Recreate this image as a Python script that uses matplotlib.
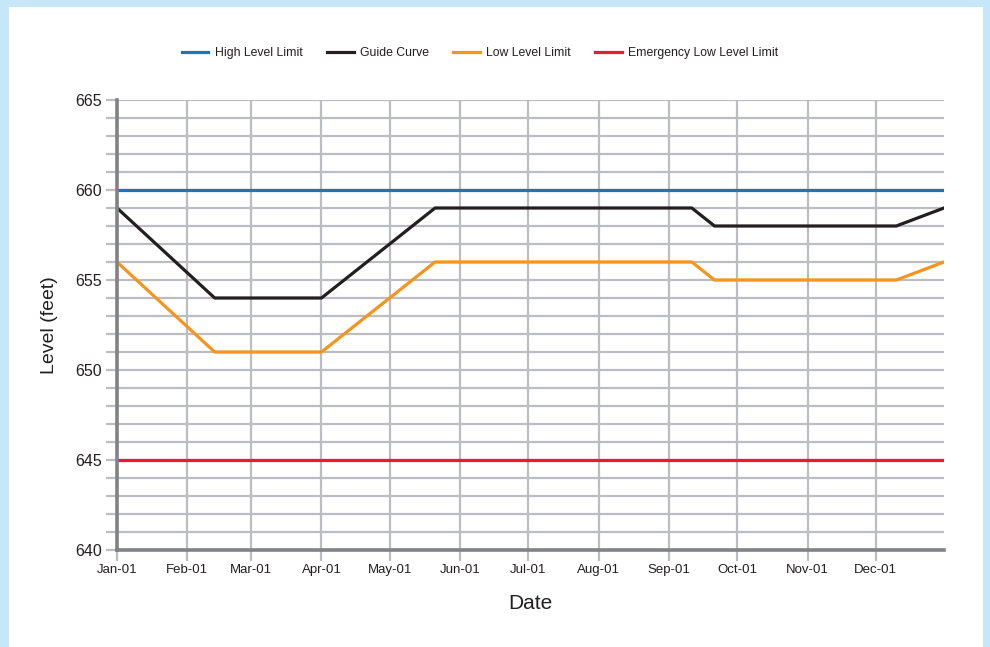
import datetime as dt
import matplotlib
matplotlib.use('Agg')
import matplotlib.pyplot as plt
import matplotlib.dates as mdates
from matplotlib.ticker import MultipleLocator

plt.rcParams['font.family'] = ['Liberation Sans Narrow', 'Liberation Sans', 'DejaVu Sans']

# breakpoints (year 2001)
guide_dates = ['2001-01-01', '2001-02-13', '2001-04-01', '2001-05-21',
               '2001-09-11', '2001-09-21', '2001-12-10', '2001-12-31']
guide_vals = [659, 654, 654, 659, 659, 658, 658, 659]
low_vals = [656, 651, 651, 656, 656, 655, 655, 656]
limit_dates = ['2001-01-01', '2001-12-31']
high_vals = [660, 660]
emerg_vals = [645, 645]
month_ticks = ['2001-%02d-01' % m for m in range(1, 13)]

def to_dt(lst):
    return [dt.datetime.strptime(s, '%Y-%m-%d') for s in lst]

grid_c = '#bcbdc1'
spine_c = '#808285'

fig = plt.figure(figsize=(9.9, 6.47), dpi=100)
fig.patch.set_facecolor('#c6e7f8')
# white panel behind everything
bg = fig.add_axes([9/990, 0, (983-9)/990, 1-7/647], zorder=-10)
bg.set_facecolor('white')
bg.set_xticks([])
bg.set_yticks([])
for s in bg.spines.values():
    s.set_visible(False)

ax = fig.add_axes([117/990, 1-550/647, (944-117)/990, (550-100)/647])
ax.set_facecolor('none')

lw = 2.3
ax.plot(to_dt(limit_dates), high_vals, color='#1b75bb', lw=lw, label='High Level Limit', zorder=3)
ax.plot(to_dt(guide_dates), guide_vals, color='#231f20', lw=lw, label='Guide Curve', zorder=3)
ax.plot(to_dt(guide_dates), low_vals, color='#f7941d', lw=lw, label='Low Level Limit', zorder=3)
ax.plot(to_dt(limit_dates), emerg_vals, color='#ed1c24', lw=lw, label='Emergency Low Level Limit', zorder=3)

ax.set_xlim(dt.datetime(2001, 1, 1), dt.datetime(2001, 12, 31))
ax.set_ylim(640, 665)
ax.yaxis.set_major_locator(MultipleLocator(5))
ax.yaxis.set_minor_locator(MultipleLocator(1))
ax.set_xticks(to_dt(month_ticks))
ax.xaxis.set_major_formatter(mdates.DateFormatter('%b-%y'))

ax.grid(True, which='both', axis='y', color=grid_c, lw=1.6, zorder=1)
ax.grid(True, which='major', axis='x', color=grid_c, lw=1.6, zorder=1)
ax.tick_params(axis='both', which='both', direction='out', length=8, width=1.6,
               color=grid_c, labelcolor='#231f20', pad=2)
ax.tick_params(axis='x', labelsize=9.5)
ax.tick_params(axis='y', labelsize=11.5, pad=3)

for s in ['top', 'right']:
    ax.spines[s].set_visible(False)
for s in ['left', 'bottom']:
    ax.spines[s].set_color(spine_c)
    ax.spines[s].set_linewidth(2.6)
    ax.spines[s].set_zorder(4)

ax.set_xlabel('Date', fontsize=15, color='#231f20', labelpad=13)
ax.set_ylabel('Level (feet)', fontsize=14, color='#231f20', labelpad=12)

fig.legend(loc='center', bbox_to_anchor=(480/990, 1-53/647), ncol=4, frameon=False,
           fontsize=8.8, handlelength=2.2, handletextpad=0.5, columnspacing=2.0,
           labelcolor='#231f20')

fig.savefig('out.png', dpi=100, facecolor=fig.get_facecolor())
